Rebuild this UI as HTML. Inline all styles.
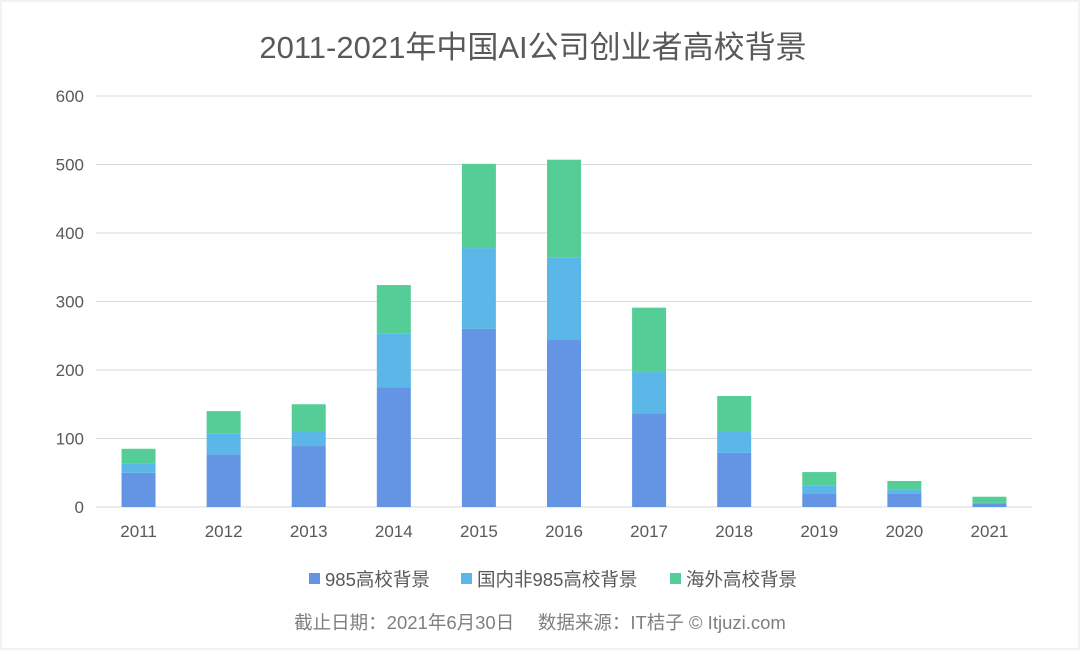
<!DOCTYPE html>
<html><head><meta charset="utf-8"><style>
body{margin:0;background:#fff;font-family:"Liberation Sans","Noto Sans CJK SC",sans-serif}
svg text{font-family:"Liberation Sans","Noto Sans CJK SC",sans-serif}
</style></head><body>
<svg id="c" width="1080" height="650">
<rect x="1" y="1" width="1078" height="648" fill="#fff" stroke="#e6e6e6"/>
<text x="533" y="58" text-anchor="middle" font-size="31" fill="#595959">2011-2021年中国AI公司创业者高校背景</text>
<g id="grid"></g><g id="bars"></g><g id="xl"></g>
<g>
<rect x="309" y="573" width="11" height="11" fill="#6495e5"/>
<text x="325" y="586" font-size="18.5" fill="#595959">985高校背景</text>
<rect x="461" y="573" width="11" height="11" fill="#5bb7e8"/>
<text x="477" y="586" font-size="18.5" fill="#595959">国内非985高校背景</text>
<rect x="670" y="573" width="11" height="11" fill="#55cd96"/>
<text x="686" y="586" font-size="18.5" fill="#595959">海外高校背景</text>
</g>
<text x="540" y="629" text-anchor="middle" font-size="18.5" fill="#7f7f7f">截止日期：2021年6月30日　 数据来源：IT桔子 © Itjuzi.com</text>
</svg>
<script>
const categories=["2011","2012","2013","2014","2015","2016","2017","2018","2019","2020","2021"];
const s985=[50,77,89,175,260,245,137,79,20,20,5];
const sDomestic=[14,30,22,78,118,119,60,32,11,5,1];
const sOverseas=[21,33,39,71,123,143,94,51,20,13,9];
const yTicks=[0,100,200,300,400,500,600];
const NS="http://www.w3.org/2000/svg";
const x0=96,x1=1032,yb=507,yt=96,ymax=600;
const bw=(x1-x0)/categories.length;
const y=v=>yb-(v/ymax)*(yb-yt);
const xc=i=>x0+bw*(i+0.5);
function mk(t,a,p){const e=document.createElementNS(NS,t);for(const k in a)e.setAttribute(k,a[k]);p.appendChild(e);return e;}
const G=document.getElementById('grid');
yTicks.forEach(v=>{
 const l=mk('line',{x1:x0,x2:x1,y1:y(v),y2:y(v),stroke:'#d9d9d9','stroke-width':1},G);
 
 
 const t=mk('text',{x:84,y:y(v)+6,'text-anchor':'end','font-size':17,fill:'#595959'},G);t.textContent=v;
 
 
});
const B=document.getElementById('bars'),XL=document.getElementById('xl');
const series=[[s985,'#6495e5','985'],[sDomestic,'#5bb7e8','domestic'],[sOverseas,'#55cd96','overseas']];
categories.forEach((c,i)=>{
 let acc=0;
 series.forEach(([arr,col,nm])=>{
  const v=arr[i];
  const r=mk('rect',{x:xc(i)-17,width:34,y:y(acc+v),height:y(acc)-y(acc+v),fill:col},B);
  
  
  acc+=v;
 });
 const t=mk('text',{x:xc(i),y:537,'text-anchor':'middle','font-size':17,fill:'#595959'},XL);t.textContent=c;
 
 
});
</script>
</body></html>
